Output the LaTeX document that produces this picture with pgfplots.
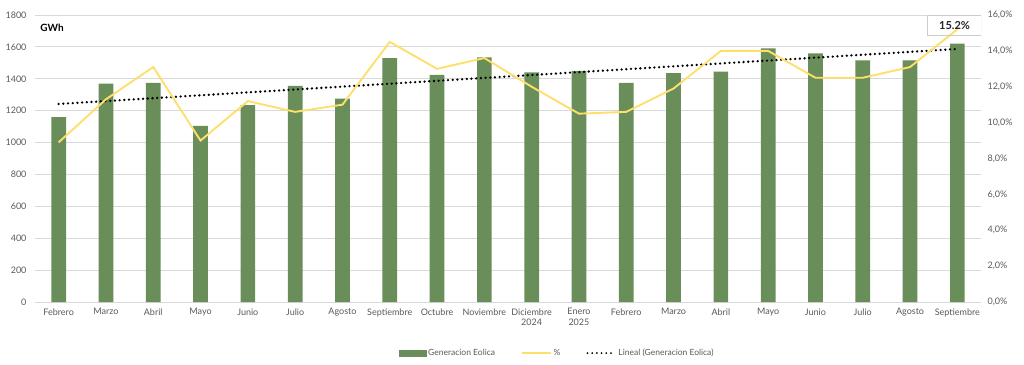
\documentclass[border=0pt]{standalone}
\usepackage{fontspec}
\setmainfont{Lato}
\usepackage{pgfplots}
\pgfplotsset{compat=1.18}
\definecolor{bargreen}{RGB}{106,142,90}
\definecolor{lineyellow}{RGB}{255,223,107}
\definecolor{gridgray}{RGB}{217,217,217}
\definecolor{labgray}{RGB}{89,89,89}
\begin{document}
\begin{tikzpicture}[x=1pt,y=1pt]
\useasboundingbox (0,0) rectangle (1024,364);
\pgfplotsset{
  base/.style={
    at={(35pt,62pt)}, anchor=south west,
    scale only axis, width=946pt, height=287pt,
    xmin=-0.5, xmax=19.5,
    major tick length=0pt,
    axis line style={draw=none},
    tick label style={font=\fontsize{9}{10.5}\selectfont, text=labgray},
    /pgf/number format/assume math mode=true,
  }
}
\begin{axis}[base,
  ymin=0, ymax=1800, ytick={0,200,...,1800},
  /pgf/number format/1000 sep={},
  ymajorgrids, grid style={gridgray, line width=0.8pt},
  xtick={0,...,19},
  xticklabels={Febrero,Marzo,Abril,Mayo,Junio,Julio,Agosto,Septiembre,Octubre,Noviembre,{Diciembre\\2024},{Enero\\2025},Febrero,Marzo,Abril,Mayo,Junio,Julio,Agosto,Septiembre},
  x tick label style={align=center, anchor=north, yshift=-3pt},
  y tick label style={xshift=-5pt},
]
\addplot[ybar, bar width=14.7pt, fill=bargreen, draw=none] coordinates {
(0,1160)(1,1370)(2,1375)(3,1105)(4,1235)(5,1355)(6,1275)(7,1530)(8,1425)(9,1535)
(10,1440)(11,1450)(12,1375)(13,1435)(14,1445)(15,1590)(16,1560)(17,1515)(18,1515)(19,1620)};
\addplot[black, line width=2.6pt, dash pattern=on 0pt off 4.7pt, line cap=round] coordinates {(0,1242)(19,1587)};
\node[anchor=west, font=\fontsize{10}{12}\selectfont\bfseries] at (rel axis cs:0.002,0.955) {GWh};
\end{axis}
\begin{axis}[base,
  ymin=0, ymax=16, ytick={0,2,...,16},
  axis x line=none,
  axis y line*=right,
  yticklabel={\pgfmathprintnumber[fixed,fixed zerofill,precision=1,use comma]{\tick}\%},
  y tick label style={xshift=3pt},
  legend style={at={(0.552,-0.178)}, anchor=center, draw=none, fill=none,
    font=\fontsize{8.5}{10}\selectfont, text=labgray, legend columns=3,
    /tikz/every even column/.append style={column sep=24pt}},
]
\addlegendimage{legend image code/.code={\fill[bargreen] (0pt,-3pt) rectangle (27pt,3pt);}}
\addlegendentry{Generacion Eolica}
\addplot[lineyellow, line width=1.9pt, legend image code/.code={\draw[lineyellow, line width=1.6pt] (0pt,0pt) -- (29pt,0pt);}] coordinates {
(0,8.9)(1,11.3)(2,13.1)(3,9.0)(4,11.2)(5,10.6)(6,11.0)(7,14.5)(8,13.0)(9,13.6)
(10,12.0)(11,10.5)(12,10.6)(13,11.9)(14,14.0)(15,14.0)(16,12.5)(17,12.5)(18,13.1)(19,15.2)};
\addlegendentry{\%}
\addlegendimage{legend image code/.code={\draw[black, line width=2pt, dash pattern=on 0pt off 4.7pt, line cap=round] (1pt,0pt) -- (29pt,0pt);}}
\addlegendentry{Lineal (Generacion Eolica)}
\node[draw=gray!40, line width=0.6pt, minimum width=54pt, minimum height=20pt, inner sep=0pt,
  font=\fontsize{11}{13}\selectfont\bfseries, text=black!85] at (axis cs:18.94,15.44) {15.2\%};
\end{axis}
\end{tikzpicture}
\end{document}
